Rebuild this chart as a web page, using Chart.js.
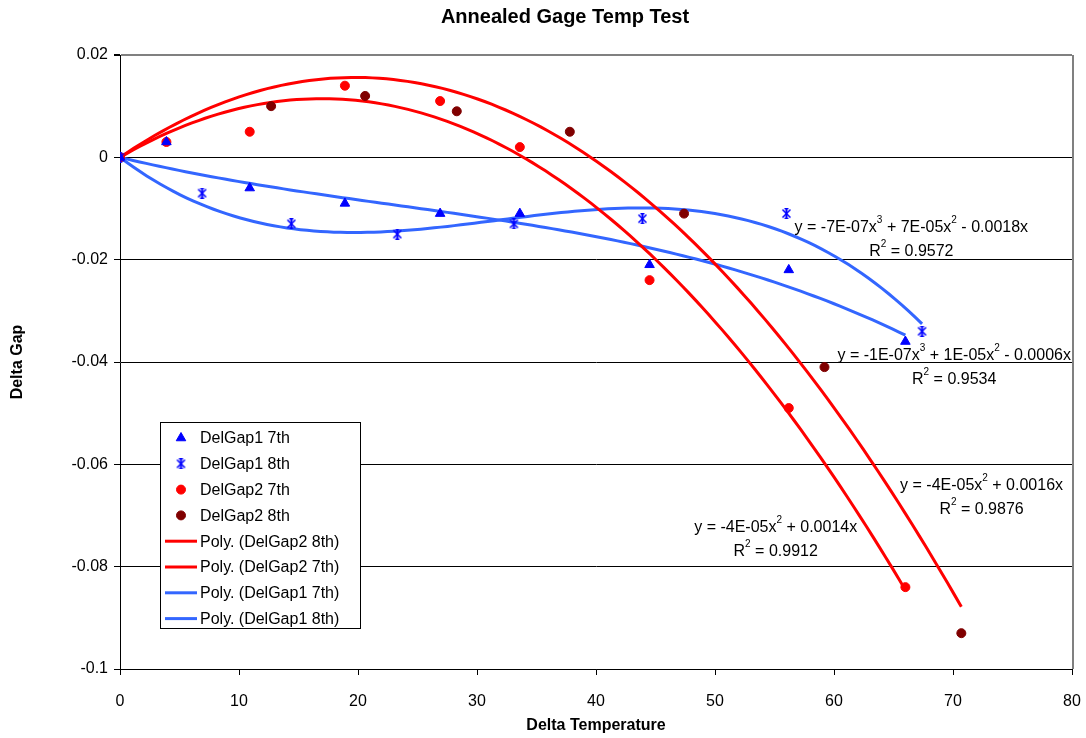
<!DOCTYPE html>
<html>
<head>
<meta charset="utf-8">
<script src="https://cdn.jsdelivr.net/npm/chart.js@4.4.0/dist/chart.umd.min.js"></script>
<style>
  html, body { margin: 0; padding: 0; background: #fff; }
  #wrap { width: 1086px; height: 738px; }
</style>
</head>
<body>
<div id="wrap"><canvas id="tempChart" width="1086" height="738"></canvas></div>
<script>
// data
const temp7th = [0, 3.9, 10.9, 18.9, 26.9, 33.6, 44.5, 56.2, 66.0];
const delGap1_7th = [0, 0.003, -0.006, -0.009, -0.011, -0.011, -0.021, -0.022, -0.036];
const delGap2_7th = [0, 0.003, 0.005, 0.014, 0.011, 0.002, -0.024, -0.049, -0.084];
const temp1_8th = [0, 6.9, 14.4, 23.3, 33.1, 43.9, 56.0, 67.4];
const delGap1_8th = [0, -0.007, -0.013, -0.015, -0.013, -0.012, -0.011, -0.034];
const temp2_8th = [0, 12.7, 20.6, 28.3, 37.8, 47.4, 59.2, 70.7];
const delGap2_8th = [0, 0.010, 0.012, 0.009, 0.005, -0.011, -0.041, -0.093];

const xTicks = [0, 10, 20, 30, 40, 50, 60, 70, 80];
const yTicks = [0.02, 0, -0.02, -0.04, -0.06, -0.08, -0.1];

const chartTitle = "Annealed Gage Temp Test";

// trendline labels (text + where it sits, in data units)
const eqTexts = [
  ["y = -7E-07x^3 + 7E-05x^2 - 0.0018x", "R^2 = 0.9572"],
  ["y = -1E-07x^3 + 1E-05x^2 - 0.0006x", "R^2 = 0.9534"],
  ["y = -4E-05x^2 + 0.0016x", "R^2 = 0.9876"],
  ["y = -4E-05x^2 + 0.0014x", "R^2 = 0.9912"]
];
const eqPos = [[66.5, -0.0137], [70.1, -0.0387], [72.4, -0.0641], [55.1, -0.0723]];

const FONT = "'Liberation Sans', Arial, sans-serif";
const BLUE = "#0000FF", RED = "#FF0000", DARKRED = "#800000", TREND_BLUE = "#3366FF";

function pairs(xs, ys) {
  return xs.map((x, i) => ({ x: x, y: ys[i] }));
}

// least squares polynomial with intercept set to 0 (like the excel trendline)
function fitPoly0(xs, ys, deg) {
  const A = [], b = [];
  for (let i = 0; i < deg; i++) { A.push(new Array(deg).fill(0)); b.push(0); }
  xs.forEach((x, k) => {
    for (let i = 0; i < deg; i++) {
      b[i] += Math.pow(x, i + 1) * ys[k];
      for (let j = 0; j < deg; j++) A[i][j] += Math.pow(x, i + 1) * Math.pow(x, j + 1);
    }
  });
  for (let c = 0; c < deg; c++) {
    let p = c;
    for (let r = c + 1; r < deg; r++) if (Math.abs(A[r][c]) > Math.abs(A[p][c])) p = r;
    [A[c], A[p]] = [A[p], A[c]]; [b[c], b[p]] = [b[p], b[c]];
    for (let r = c + 1; r < deg; r++) {
      const f = A[r][c] / A[c][c];
      for (let j = c; j < deg; j++) A[r][j] -= f * A[c][j];
      b[r] -= f * b[c];
    }
  }
  const co = new Array(deg).fill(0);
  for (let i = deg - 1; i >= 0; i--) {
    let s = b[i];
    for (let j = i + 1; j < deg; j++) s -= A[i][j] * co[j];
    co[i] = s / A[i][i];
  }
  return co;
}

function trendLine(xs, ys, deg) {
  const co = fitPoly0(xs, ys, deg);
  const xmax = Math.max(...xs);
  const out = [];
  for (let k = 0; k <= 120; k++) {
    const x = xmax * k / 120;
    let y = 0;
    co.forEach((c, i) => { y += c * Math.pow(x, i + 1); });
    out.push({ x: x, y: y });
  }
  return out;
}

// excel style star marker (X + vertical bar)
function makeStar() {
  const c = document.createElement("canvas");
  c.width = 11; c.height = 11;
  const g = c.getContext("2d");
  g.strokeStyle = BLUE; g.lineWidth = 1.5;
  g.beginPath();
  g.moveTo(1.5, 1.5); g.lineTo(9.5, 9.5);
  g.moveTo(9.5, 1.5); g.lineTo(1.5, 9.5);
  g.stroke();
  g.lineWidth = 2;
  g.beginPath();
  g.moveTo(5.5, 0); g.lineTo(5.5, 11);
  g.stroke();
  g.lineWidth = 1.2;
  g.beginPath();
  g.moveTo(3.5, 0.6); g.lineTo(7.5, 0.6);
  g.moveTo(3.5, 10.4); g.lineTo(7.5, 10.4);
  g.stroke();
  return c;
}
const starImg = makeStar();

function drawRich(ctx, str, cx, cy) {
  const parts = str.split(/\^(\d)/);
  const big = "16px " + FONT, small = "10px " + FONT;
  let w = 0;
  parts.forEach((p, i) => { ctx.font = i % 2 ? small : big; w += ctx.measureText(p).width; });
  let x = cx - w / 2;
  ctx.textAlign = "left";
  ctx.textBaseline = "middle";
  parts.forEach((p, i) => {
    ctx.font = i % 2 ? small : big;
    ctx.fillText(p, x, i % 2 ? cy - 7 : cy);
    x += ctx.measureText(p).width;
  });
}

const extras = {
  id: "extras",
  afterDraw(chart) {
    const ctx = chart.ctx;
    const a = chart.chartArea;
    const xs = chart.scales.x, ys = chart.scales.y;
    ctx.save();
    // grey plot border on the right
    ctx.strokeStyle = "#808080";
    ctx.lineWidth = 2;
    ctx.beginPath();
    ctx.moveTo(a.right + 1, a.top);
    ctx.lineTo(a.right + 1, a.bottom);
    ctx.stroke();

    // title
    ctx.fillStyle = "#000";
    ctx.font = "bold 20px " + FONT;
    ctx.textAlign = "center";
    ctx.textBaseline = "middle";
    ctx.fillText(chartTitle, 565, 17);

    // equations
    eqTexts.forEach((t, i) => {
      const px = xs.getPixelForValue(eqPos[i][0]);
      const py = ys.getPixelForValue(eqPos[i][1]);
      drawRich(ctx, t[0], px, py);
      drawRich(ctx, t[1], px, py + 24);
    });

    // legend
    const lx = 160, ly = 422, lw = 200, lh = 206;
    ctx.fillStyle = "#fff";
    ctx.fillRect(lx, ly, lw, lh);
    ctx.strokeStyle = "#000";
    ctx.lineWidth = 1;
    ctx.strokeRect(lx + 0.5, ly + 0.5, lw, lh);
    const items = [
      ["DelGap1 7th", "triangle", BLUE],
      ["DelGap1 8th", "star", BLUE],
      ["DelGap2 7th", "circle", RED],
      ["DelGap2 8th", "circle", DARKRED],
      ["Poly. (DelGap2 8th)", "line", RED],
      ["Poly. (DelGap2 7th)", "line", RED],
      ["Poly. (DelGap1 7th)", "line", TREND_BLUE],
      ["Poly. (DelGap1 8th)", "line", TREND_BLUE]
    ];
    items.forEach((it, i) => {
      const y = ly + 16 + i * 25.8;
      const mx = 181;
      if (it[1] === "line") {
        ctx.strokeStyle = it[2];
        ctx.lineWidth = 3;
        ctx.beginPath(); ctx.moveTo(165, y); ctx.lineTo(197, y); ctx.stroke();
      } else if (it[1] === "star") {
        ctx.drawImage(starImg, mx - 5.5, y - 5.5);
      } else {
        ctx.fillStyle = it[2];
        ctx.strokeStyle = it[2];
        ctx.lineWidth = 1;
        Chart.helpers.drawPoint(ctx, { pointStyle: it[1], radius: it[1] === "triangle" ? 5.5 : 4.5, rotation: 0, borderWidth: 1 }, mx, y);
      }
      ctx.fillStyle = "#000";
      ctx.font = "16px " + FONT;
      ctx.textAlign = "left";
      ctx.textBaseline = "middle";
      ctx.fillText(it[0], 200, y + 1);
    });
    ctx.restore();
  }
};

const markerSet = (label, data, style, color, r) => ({
  type: "scatter",
  label: label,
  data: data,
  showLine: false,
  pointStyle: style,
  pointRadius: r,
  pointBackgroundColor: color,
  pointBorderColor: color,
  pointBorderWidth: 1
});
const trendSet = (label, data, color) => ({
  type: "line",
  label: label,
  data: data,
  borderColor: color,
  borderWidth: 3,
  pointRadius: 0,
  fill: false,
  tension: 0
});

const tempChart = new Chart(document.getElementById("tempChart"), {
  type: "scatter",
  data: {
    datasets: [
      markerSet("DelGap1 7th", pairs(temp7th, delGap1_7th), "triangle", BLUE, 5.5),
      markerSet("DelGap1 8th", pairs(temp1_8th, delGap1_8th), starImg, BLUE, 5),
      markerSet("DelGap2 7th", pairs(temp7th, delGap2_7th), "circle", RED, 4.5),
      markerSet("DelGap2 8th", pairs(temp2_8th, delGap2_8th), "circle", DARKRED, 4.5),
      trendSet("Poly. (DelGap2 8th)", trendLine(temp2_8th, delGap2_8th, 2), RED),
      trendSet("Poly. (DelGap2 7th)", trendLine(temp7th, delGap2_7th, 2), RED),
      trendSet("Poly. (DelGap1 7th)", trendLine(temp7th, delGap1_7th, 3), TREND_BLUE),
      trendSet("Poly. (DelGap1 8th)", trendLine(temp1_8th, delGap1_8th, 3), TREND_BLUE)
    ]
  },
  options: {
    responsive: false,
    animation: false,
    layout: { padding: { left: 0, right: 14, top: 55, bottom: 0 } },
    scales: {
      x: {
        type: "linear",
        min: 0, max: 80,
        afterBuildTicks: (s) => { s.ticks = xTicks.map(v => ({ value: v })); },
        afterFit: (s) => { s.height = 69; s.paddingLeft = 0; s.paddingRight = 0; },
        ticks: { color: "#000", font: { family: FONT, size: 16 }, padding: 17, maxRotation: 0 },
        grid: { drawOnChartArea: false, drawTicks: true, tickLength: 6, tickColor: "#000" },
        border: { color: "#000", width: 1 },
        title: { display: true, text: "Delta Temperature", color: "#000", font: { family: FONT, size: 16, weight: "bold" }, padding: { top: 0, bottom: 3 } }
      },
      y: {
        type: "linear",
        min: -0.1, max: 0.02,
        afterBuildTicks: (s) => { s.ticks = yTicks.map(v => ({ value: v })); },
        afterFit: (s) => { s.width = 120; s.paddingTop = 0; s.paddingBottom = 0; },
        ticks: {
          color: "#000", font: { family: FONT, size: 16 }, padding: 6,
          callback: (v) => String(Number(v.toFixed(2)))
        },
        grid: {
          color: (c) => (c.tick && Math.abs(c.tick.value - 0.02) < 1e-9) ? "#808080" : "#000",
          lineWidth: (c) => (c.tick && Math.abs(c.tick.value - 0.02) < 1e-9) ? 2 : 1,
          drawTicks: true, tickLength: 6, tickColor: "#000"
        },
        border: { color: "#000", width: 1 },
        title: { display: true, text: "Delta Gap", color: "#000", font: { family: FONT, size: 16, weight: "bold" }, padding: { top: 8, bottom: 0 } }
      }
    },
    plugins: {
      legend: { display: false },
      tooltip: { enabled: false },
      title: { display: false }
    }
  },
  plugins: [extras]
});
</script>
</body>
</html>
